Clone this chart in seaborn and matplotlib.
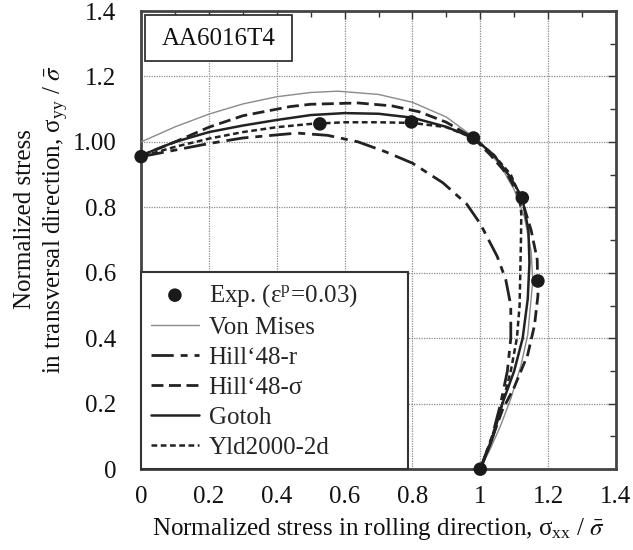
import numpy as np
import pandas as pd
import matplotlib
matplotlib.use("Agg")
import matplotlib.pyplot as plt
import matplotlib.patches as mpatches
import seaborn as sns
from matplotlib.ticker import MultipleLocator, FixedLocator, FixedFormatter

# ---------------- data ----------------
exp_x = [0.0, 0.527, 0.797, 0.98, 1.124, 1.17, 1.0]
exp_y = [0.955, 1.055, 1.061, 1.012, 0.829, 0.575, 0.0]

vm_x = [1.0, 1.03, 1.06, 1.09, 1.12, 1.14, 1.155, 1.15, 1.13, 1.1, 1.06, 1.0,
        0.9, 0.8, 0.7, 0.58, 0.5, 0.4, 0.3, 0.2, 0.1, 0.0]
vm_y = [0.0, 0.063, 0.133, 0.215, 0.317, 0.411, 0.577, 0.665, 0.771, 0.854, 0.927, 1.0,
        1.076, 1.121, 1.145, 1.155, 1.151, 1.138, 1.116, 1.085, 1.046, 1.0]

hr_x = [1.0, 1.035, 1.06, 1.08, 1.09, 1.09, 1.075, 1.05, 1.0, 0.96, 0.89, 0.8,
        0.72, 0.64, 0.55, 0.46, 0.3, 0.2, 0.1, 0.0]
hr_y = [0.0, 0.1, 0.2, 0.3, 0.4, 0.5, 0.58, 0.65, 0.75, 0.81, 0.875, 0.935,
        0.97, 1.0, 1.02, 1.027, 1.012, 0.995, 0.975, 0.955]

hs_x = [1.0, 1.03, 1.065, 1.1, 1.14, 1.16, 1.17, 1.168, 1.15, 1.125, 1.08, 1.03,
        0.98, 0.9, 0.82, 0.74, 0.64, 0.5, 0.44, 0.3, 0.2, 0.1, 0.0]
hs_y = [0.0, 0.08, 0.18, 0.25, 0.35, 0.44, 0.53, 0.64, 0.73, 0.815, 0.9, 0.96,
        1.012, 1.06, 1.092, 1.11, 1.119, 1.115, 1.108, 1.08, 1.045, 1.0, 0.958]

go_x = [1.0, 1.035, 1.065, 1.1, 1.125, 1.14, 1.145, 1.142, 1.124, 1.09, 1.04, 0.98,
        0.9, 0.8, 0.7, 0.6, 0.5, 0.4, 0.3, 0.2, 0.1, 0.05, 0.0]
go_y = [0.0, 0.09, 0.2, 0.3, 0.4, 0.52, 0.63, 0.73, 0.829, 0.89, 0.96, 1.012,
        1.046, 1.074, 1.086, 1.088, 1.082, 1.067, 1.05, 1.03, 1.0, 0.98, 0.958]

yl_x = [1.0, 1.035, 1.065, 1.09, 1.108, 1.116, 1.118, 1.12, 1.121, 1.115, 1.09, 1.04,
        0.98, 0.9, 0.8, 0.7, 0.6, 0.5, 0.4, 0.3, 0.2, 0.1, 0.0]
yl_y = [0.0, 0.1, 0.2, 0.3, 0.4, 0.5, 0.6, 0.7, 0.78, 0.84, 0.9, 0.96,
        1.012, 1.045, 1.058, 1.06, 1.06, 1.055, 1.045, 1.03, 1.01, 0.985, 0.955]

xtick_vals = [0, 0.2, 0.4, 0.6, 0.8, 1.0, 1.2, 1.4]
xtick_labels = ["0", "0.2", "0.4", "0.6", "0.8", "1", "1.2", "1.4"]
ytick_vals = [0, 0.2, 0.4, 0.6, 0.8, 1.0, 1.2, 1.4]
ytick_labels = ["0", "0.2", "0.4", "0.6", "0.8", "1.00", "1.2", "1.4"]

# ---------------- style ----------------
sns.set_theme(style="white")
plt.rcParams["font.family"] = ["Liberation Serif", "DejaVu Serif"]
plt.rcParams["mathtext.fontset"] = "stix"
FS = 18
DARK = "#222222"

fig = plt.figure(figsize=(6.33, 5.5), dpi=100)
ax = fig.add_axes([0.223, 0.147, 0.750, 0.833])

curves = [
    ("Von Mises", vm_x, vm_y, dict(color="#8a8a8a", lw=1.0, linestyle="-")),
    ("Hill\u201848-r", hr_x, hr_y, dict(color=DARK, lw=2.0, linestyle=(0, (8, 2.5, 2.5, 2.5)))),
    ("Hill\u201848-\u03c3", hs_x, hs_y, dict(color=DARK, lw=2.0, linestyle=(0, (4.3, 2.0)))),
    ("Gotoh", go_x, go_y, dict(color=DARK, lw=1.8, linestyle="-")),
    ("Yld2000-2d", yl_x, yl_y, dict(color=DARK, lw=1.8, linestyle=(0, (2.3, 1.4)))),
]
for name, xs, ys, kw in curves:
    df = pd.DataFrame({"x": xs, "y": ys})
    sns.lineplot(data=df, x="x", y="y", sort=False, estimator=None, ax=ax,
                 label=name, zorder=3, **kw)

dfe = pd.DataFrame({"x": exp_x, "y": exp_y})
sns.scatterplot(data=dfe, x="x", y="y", ax=ax, s=95, color="#1a1a1a",
                edgecolor="none", label="Exp. (\u03b5$^{\\mathregular{p}}$=0.03)",
                zorder=5, clip_on=False)

ax.set_xlim(0, 1.4)
ax.set_ylim(0, 1.4)
ax.xaxis.set_major_locator(FixedLocator(xtick_vals))
ax.xaxis.set_major_formatter(FixedFormatter(xtick_labels))
ax.yaxis.set_major_locator(FixedLocator(ytick_vals))
ax.yaxis.set_major_formatter(FixedFormatter(ytick_labels))
ax.xaxis.set_minor_locator(MultipleLocator(0.1))
ax.yaxis.set_minor_locator(MultipleLocator(0.1))
ax.tick_params(which="both", direction="in", top=True, right=True,
               color="#333333", labelsize=FS, labelcolor="#111111")
ax.tick_params(which="major", length=6, width=1.0, pad=12)
ax.tick_params(which="minor", length=4, width=1.0)
ax.tick_params(axis="y", which="major", pad=18)

ax.grid(True, which="major", linestyle=(0, (1, 1)), color="#8c8c8c", lw=0.9)
for s in ax.spines.values():
    s.set_color("#444444")
    s.set_linewidth(2.0)
    s.set_visible(True)

ax.set_xlabel("Normalized stress in rolling direction, \u03c3$_{\\mathregular{xx}}$ / $\\bar{\\sigma}$",
              fontsize=FS, color="#111111", labelpad=6)
ax.set_ylabel("Normalized stress\nin transversal direction, \u03c3$_{\\mathregular{yy}}$ / $\\bar{\\sigma}$",
              fontsize=FS, color="#111111", linespacing=1.25)
ax.yaxis.set_label_coords(-0.15, 0.545)

# title box
ax.add_patch(mpatches.Rectangle((0.0084, 0.891), 0.309, 0.100, transform=ax.transAxes,
                                fc="white", ec="#333333", lw=1.3, zorder=6))
ax.text(0.0084 + 0.1545, 0.939, "AA6016T4", transform=ax.transAxes, ha="center",
        va="center", fontsize=FS, color="#111111", zorder=7)

handles, labels = ax.get_legend_handles_labels()
order = [labels.index(l) for l in [labels[-1]] + [c[0] for c in curves]]
leg = ax.legend([handles[i] for i in order], [labels[i] for i in order],
                loc="lower left", bbox_to_anchor=(0.0, 0.0, 0.562, 0.43),
                mode="expand", borderaxespad=0.0,
                fontsize=FS, frameon=True, fancybox=False, framealpha=1.0,
                edgecolor="#333333", handlelength=1.9, handletextpad=0.4,
                labelspacing=0.3, borderpad=0.4)
leg.get_frame().set_linewidth(1.5)
leg.set_zorder(10)

fig.savefig("out.png", dpi=100)
